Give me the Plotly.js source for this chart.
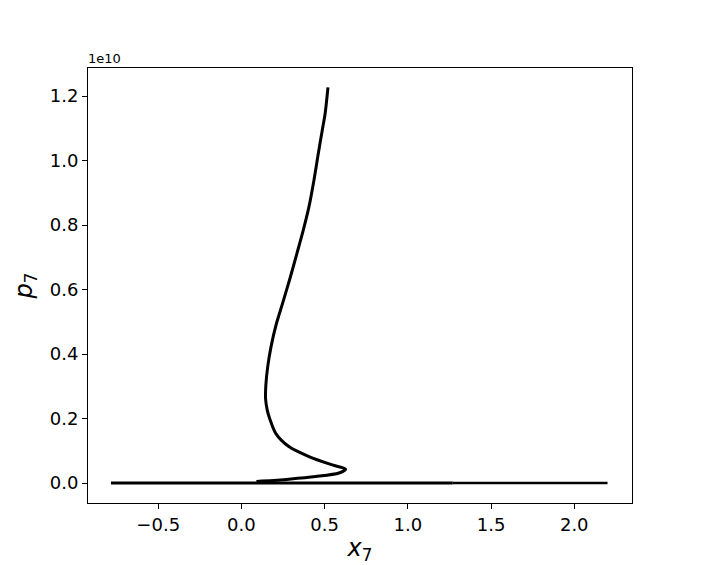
<!DOCTYPE html>
<html>
<head>
<meta charset="utf-8">
<script src="https://cdn.plot.ly/plotly-3.0.1.min.js"></script>
<style>html,body{margin:0;padding:0;background:#fff;}#chart{width:702px;height:565px;}</style>
</head>
<body>
<div id="chart"></div>
<script>
// Trajectory branch (x7, p7 in units of 1e10)
const curveX = [0.520, 0.503, 0.486, 0.462, 0.436, 0.406, 0.372, 0.334, 0.292, 0.249, 0.208, 0.178, 0.158, 0.147, 0.145, 0.155, 0.169, 0.206, 0.285, 0.406, 0.546, 0.626, 0.586, 0.446, 0.285, 0.123, 0.090];
const curveP = [1.227, 1.146, 1.095, 1.022, 0.940, 0.857, 0.785, 0.713, 0.635, 0.560, 0.490, 0.423, 0.361, 0.305, 0.262, 0.226, 0.201, 0.154, 0.113, 0.082, 0.056, 0.043, 0.031, 0.020, 0.012, 0.006, 0.005];
// Flat branch along p7 = 0
const flatX = [-0.784, 1.27];
const flatP = [0, 0];
const sparseX = [1.27, 2.20];
const sparseP = [0, 0];
// Ticks
const xTicks = [-0.5, 0.0, 0.5, 1.0, 1.5, 2.0];
const yTicks = [0.0, 0.2, 0.4, 0.6, 0.8, 1.0, 1.2];
const offsetLabel = '1e10';

const font = 'DejaVu Sans, sans-serif';
const traces = [
  {x: flatX, y: flatP, mode: 'lines', line: {color: '#000', width: 3}, hoverinfo: 'skip'},
  {x: sparseX, y: sparseP, mode: 'lines', line: {color: '#000', width: 2.6}, hoverinfo: 'skip'},
  {x: curveX, y: curveP, mode: 'lines', line: {color: '#000', width: 3, shape: 'spline', smoothing: 0.8}, hoverinfo: 'skip'}
];
const axisCommon = {
  showline: true, mirror: true, linecolor: '#000', linewidth: 1,
  ticks: 'outside', ticklen: 5, tickwidth: 1, tickcolor: '#000',
  showgrid: false, zeroline: false,
  tickfont: {family: font, size: 18, color: '#000'},
  tickformat: '.1f'
};
const layout = {
  width: 702, height: 565,
  margin: {l: 88, r: 70, t: 68, b: 62},
  paper_bgcolor: '#fff', plot_bgcolor: '#fff',
  showlegend: false,
  xaxis: Object.assign({}, axisCommon, {
    range: [-0.922, 2.347], tickvals: xTicks,
    title: {text: '<i>x</i><sub>7</sub>', font: {family: font, size: 24, color: '#000'}, standoff: 8}
  }),
  yaxis: Object.assign({}, axisCommon, {
    range: [-0.062, 1.287], tickvals: yTicks,
    title: {text: '<i>p</i><sub>7</sub>', font: {family: font, size: 24, color: '#000'}, standoff: 10}
  }),
  annotations: [{
    text: offsetLabel, xref: 'paper', yref: 'paper', x: 0, y: 1,
    xanchor: 'left', yanchor: 'bottom', showarrow: false, yshift: 0, xshift: -2,
    font: {family: font, size: 13, color: '#000'}
  }]
};
Plotly.newPlot('chart', traces, layout, {displayModeBar: false, staticPlot: true});
</script>
</body>
</html>
